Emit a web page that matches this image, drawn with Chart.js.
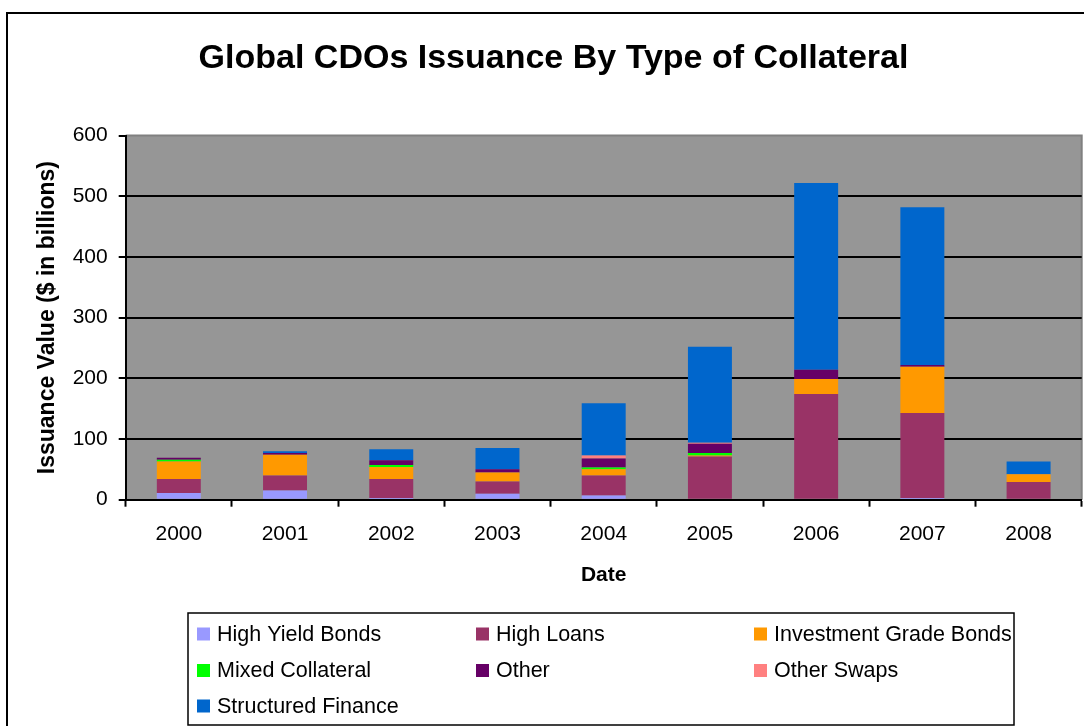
<!DOCTYPE html>
<html>
<head>
<meta charset="utf-8">
<script src="https://cdn.jsdelivr.net/npm/chart.js@4/dist/chart.umd.min.js"></script>
<style>
  html, body { margin: 0; padding: 0; background: #fff; }
  #wrap { width: 1084px; height: 726px; position: relative; }
</style>
</head>
<body>
<div id="wrap"><canvas id="c" width="1084" height="726"></canvas></div>
<script>
// Issuance by year, $ billions, per collateral type
const years = ['2000', '2001', '2002', '2003', '2004', '2005', '2006', '2007', '2008'];
const highYieldBonds      = [11, 15, 3, 10, 7, 0, 0, 3, 0];
const highLoans           = [23, 25, 31, 20, 33, 71, 174, 140, 29];
const investmentGrade     = [29, 34, 20, 15, 10, 2, 25, 76, 13];
const mixedCollateral     = [3, 0, 3, 0, 3, 4, 0, 0, 0];
const otherCollateral     = [3, 3, 8, 5, 15, 15, 15, 3, 0];
const otherSwaps          = [0, 0, 0, 0, 5, 2, 0, 0, 0];
const structuredFinance   = [0, 3, 18, 35, 86, 158, 308, 260, 21];
const yTickValues         = [0, 100, 200, 300, 400, 500, 600];

const FONT = '"Liberation Sans", Arial, Helvetica, sans-serif';
Chart.defaults.font.family = FONT;
Chart.defaults.color = '#000';

// Legend grid positions (three columns, row-major)
const legendCols = [197, 476, 754];
const legendRows = [634, 670.5, 706];

const framePlugin = {
  id: 'frame',
  beforeDraw(chart) {
    const { ctx, chartArea: a } = chart;
    ctx.save();
    ctx.fillStyle = '#fff';
    ctx.fillRect(0, 0, chart.width, chart.height);
    // outer chart border
    ctx.strokeStyle = '#000';
    ctx.lineWidth = 2;
    ctx.strokeRect(7, 13, chart.width + 20, chart.height + 20);
    // plot area fill and grey frame
    ctx.fillStyle = '#969696';
    ctx.fillRect(a.left, a.top, a.right - a.left, a.bottom - a.top);
    ctx.strokeStyle = '#808080';
    ctx.lineWidth = 2;
    ctx.beginPath();
    ctx.moveTo(a.left, a.top);
    ctx.lineTo(a.right, a.top);
    ctx.lineTo(a.right, a.bottom);
    ctx.stroke();
    ctx.restore();
  },
  afterDraw(chart) {
    const ctx = chart.ctx;
    ctx.save();
    ctx.strokeStyle = '#000';
    ctx.lineWidth = 1.5;
    ctx.strokeRect(188, 613, 826, 112);
    ctx.font = '21.5px ' + FONT;
    ctx.textBaseline = 'middle';
    ctx.textAlign = 'left';
    chart.data.datasets.forEach((ds, i) => {
      const x = legendCols[i % 3];
      const y = legendRows[Math.floor(i / 3)];
      ctx.fillStyle = ds.backgroundColor;
      ctx.fillRect(x, y - 6.5, 13, 13);
      ctx.fillStyle = '#000';
      ctx.fillText(ds.label, x + 20, y + 1);
    });
    ctx.restore();
  }
};

const series = [
  ['High Yield Bonds', highYieldBonds, '#9999FF'],
  ['High Loans', highLoans, '#993366'],
  ['Investment Grade Bonds', investmentGrade, '#FF9900'],
  ['Mixed Collateral', mixedCollateral, '#00FF00'],
  ['Other', otherCollateral, '#660066'],
  ['Other Swaps', otherSwaps, '#FF8080'],
  ['Structured Finance', structuredFinance, '#0066CC']
];

new Chart(document.getElementById('c'), {
  type: 'bar',
  data: {
    labels: years,
    datasets: series.map(([label, data, color]) => ({
      label, data,
      backgroundColor: color,
      borderWidth: 0,
      categoryPercentage: 1,
      barPercentage: 0.414
    }))
  },
  plugins: [framePlugin],
  options: {
    responsive: false,
    animation: false,
    devicePixelRatio: 1,
    layout: { padding: { left: 25.3, right: 2.3, top: 0, bottom: 126.3 } },
    plugins: {
      legend: { display: false },
      tooltip: { enabled: false },
      title: {
        display: true,
        text: 'Global CDOs Issuance By Type of Collateral',
        color: '#000',
        font: { size: 34, weight: 'bold', family: FONT },
        padding: { top: 38.5, bottom: 56.3 }
      }
    },
    scales: {
      x: {
        stacked: true,
        grid: {
          display: true, drawOnChartArea: false, drawTicks: true, offset: true,
          tickLength: 7, tickColor: '#000', tickWidth: 2
        },
        border: { display: true, color: '#000', width: 2 },
        ticks: { font: { size: 21 }, color: '#000', padding: 15, maxRotation: 0 },
        title: {
          display: true, text: 'Date', color: '#000',
          font: { size: 21, weight: 'bold' },
          padding: { top: 0, bottom: 12 }
        },
        afterFit(s) { s.height = 100; }
      },
      y: {
        stacked: true,
        min: 0, max: 600,
        afterBuildTicks(s) { s.ticks = yTickValues.map(v => ({ value: v })); },
        grid: {
          color: c => (c.tick && c.tick.value === 600 ? 'rgba(0,0,0,0)' : '#000'),
          lineWidth: 2,
          tickLength: 7, tickColor: '#000', tickWidth: 2
        },
        border: { display: true, color: '#000', width: 2 },
        ticks: { font: { size: 21 }, color: '#000', padding: 11 },
        title: {
          display: true, text: 'Issuance Value ($ in billions)', color: '#000',
          font: { size: 23, weight: 'bold' },
          padding: { top: 8.9, bottom: 0 }
        },
        afterFit(s) { s.width = 100.4; }
      }
    }
  }
});
</script>
</body>
</html>
